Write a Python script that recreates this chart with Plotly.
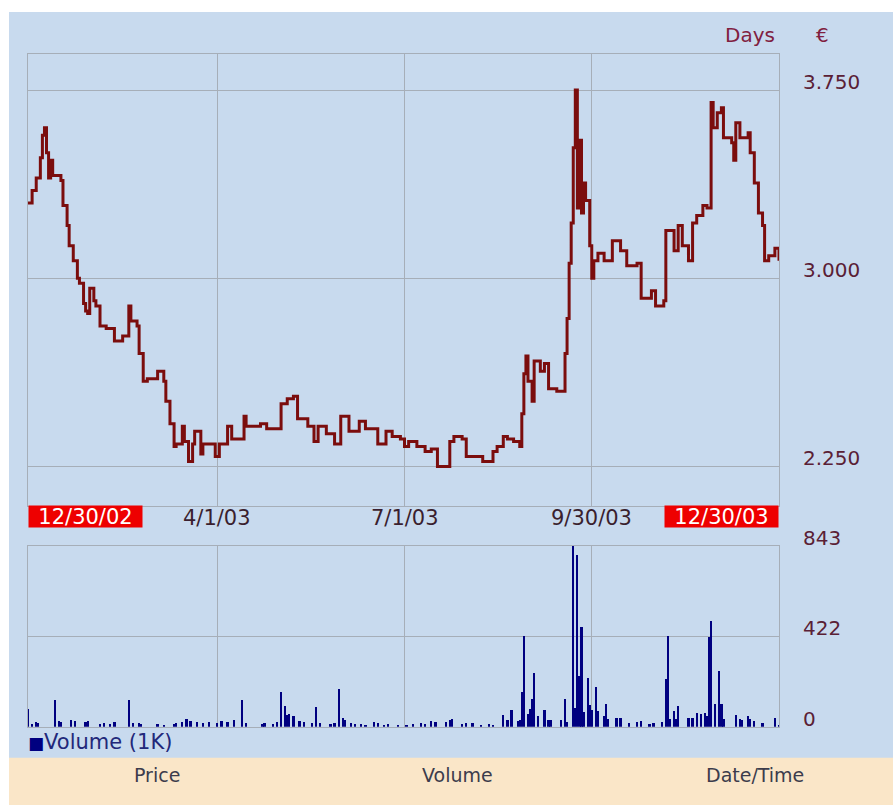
import pandas as pd
import plotly.graph_objects as go

# ---------------- data ----------------
start_date = "2002-12-30"
end_date = "2003-12-30"

# price: day offset from start_date, close price (EUR)
price_day = [0, 2, 4, 6, 7, 8, 9, 10, 11, 12, 14, 16, 17, 19, 20, 22, 24, 25, 27, 28,
             29, 30, 32, 33, 35, 38, 41, 42, 46, 49, 50, 53, 54, 56, 58, 63, 66, 67, 69, 71,
             72, 75, 76, 78, 80, 81, 84, 85, 91, 93, 97, 99, 102, 105, 106, 113, 116, 121, 123, 126,
             129, 131, 132, 136, 139, 141, 145, 149, 152, 156, 161, 164, 167, 170, 174, 177, 181, 183, 185, 189,
             193, 196, 199, 203, 205, 207, 211, 213, 216, 221, 224, 226, 228, 231, 233, 236, 239, 240, 241, 242,
             243, 245, 246, 249, 251, 253, 257, 260, 261, 262, 263, 264, 265, 266, 267, 268, 269, 270, 271, 273,
             274, 275, 277, 280, 284, 288, 291, 296, 298, 303, 305, 309, 310, 314, 316, 318, 321, 323, 325, 328,
             330, 332, 333, 335, 337, 338, 342, 343, 344, 346, 350, 351, 353, 355, 357, 358, 360, 363, 365]
price_val = [3.30, 3.35, 3.40, 3.48, 3.57, 3.60, 3.50, 3.40, 3.47, 3.41, 3.41, 3.39, 3.29, 3.21, 3.13, 3.07, 3.00, 2.98, 2.90, 2.87,
             2.86, 2.96, 2.91, 2.89, 2.81, 2.80, 2.80, 2.75, 2.77, 2.89, 2.83, 2.81, 2.70, 2.59, 2.60, 2.63, 2.59, 2.51, 2.42, 2.33,
             2.34, 2.41, 2.35, 2.27, 2.34, 2.39, 2.30, 2.34, 2.29, 2.34, 2.41, 2.36, 2.36, 2.45, 2.41, 2.42, 2.40, 2.40, 2.50, 2.52,
             2.53, 2.44, 2.44, 2.41, 2.35, 2.41, 2.38, 2.34, 2.45, 2.39, 2.43, 2.40, 2.40, 2.34, 2.39, 2.37, 2.36, 2.33, 2.35, 2.33,
             2.31, 2.32, 2.25, 2.25, 2.35, 2.37, 2.36, 2.29, 2.29, 2.27, 2.27, 2.31, 2.33, 2.37, 2.36, 2.35, 2.33, 2.46, 2.62, 2.69,
             2.59, 2.51, 2.67, 2.63, 2.66, 2.56, 2.55, 2.55, 2.70, 2.84, 3.06, 3.22, 3.52, 3.75, 3.28, 3.55, 3.26, 3.38, 3.31, 3.13,
             3.00, 3.07, 3.10, 3.07, 3.15, 3.11, 3.05, 3.06, 2.92, 2.95, 2.89, 2.91, 3.19, 3.11, 3.21, 3.13, 3.07, 3.22, 3.25, 3.29,
             3.28, 3.70, 3.60, 3.66, 3.68, 3.56, 3.54, 3.47, 3.62, 3.56, 3.58, 3.50, 3.38, 3.26, 3.21, 3.07, 3.09, 3.12, 3.07]

# volume (thousands): day offset from start_date, volume
vol_day = [0, 2, 4, 5, 13, 15, 16, 21, 23, 28, 29, 35, 37, 40, 42, 49, 51, 54, 55, 63,
           66, 71, 72, 75, 77, 79, 82, 85, 88, 92, 94, 97, 100, 104, 106, 114, 115, 119, 121, 123,
           125, 126, 127, 129, 132, 134, 138, 140, 142, 147, 149, 151, 153, 154, 157, 159, 162, 164, 168, 170,
           173, 175, 180, 184, 187, 191, 193, 196, 198, 203, 205, 206, 211, 213, 216, 220, 224, 226, 231, 233,
           235, 238, 239, 240, 241, 243, 244, 245, 246, 248, 251, 253, 254, 259, 261, 262, 265, 266, 267, 268,
           269, 270, 272, 273, 274, 276, 277, 280, 281, 282, 286, 288, 292, 296, 298, 302, 304, 308, 310, 311,
           312, 314, 315, 316, 321, 323, 325, 327, 329, 330, 331, 332, 334, 336, 337, 338, 344, 346, 347, 350,
           351, 353, 357, 363, 365]
vol_val = [85, 15, 25, 20, 125, 30, 25, 35, 30, 25, 30, 15, 20, 15, 25, 125, 20, 20, 15, 15,
           12, 15, 20, 25, 40, 30, 25, 20, 25, 20, 30, 25, 35, 125, 20, 15, 20, 15, 25, 165,
           100, 55, 60, 50, 30, 25, 20, 95, 20, 15, 20, 180, 45, 35, 20, 15, 15, 12, 25, 20,
           12, 15, 10, 12, 15, 20, 15, 30, 25, 25, 35, 40, 15, 20, 20, 12, 15, 10, 55, 35,
           80, 30, 35, 165, 425, 60, 85, 130, 250, 50, 80, 35, 35, 35, 130, 25, 843, 90, 800, 240,
           465, 70, 230, 105, 80, 185, 75, 50, 110, 40, 45, 45, 20, 25, 30, 15, 20, 25, 225, 425,
           40, 75, 40, 100, 45, 45, 65, 60, 65, 50, 420, 495, 110, 260, 110, 40, 55, 40, 35, 50,
           40, 30, 20, 45, 10]

date_ticks = ["2002-12-30", "2003-04-01", "2003-07-01", "2003-09-30", "2003-12-30"]
date_labels = ["12/30/02", "4/1/03", "7/1/03", "9/30/03", "12/30/03"]
price_ticks = [2.25, 3.0, 3.75]
price_labels = ["2.250", "3.000", "3.750"]
vol_ticks = [0, 422, 843]
vol_labels = ["0", "422", "843"]

# ---------------- figure ----------------
SY, Y0 = 0.97, 20.0          # vertical calibration of the photographed page
W, H = 893, 830
FONT = "DejaVu Sans"
BLUE = "#C8DAEE"
BEIGE = "#FAE6C8"
GRID = "#A6AEB8"
TICKCOL = "#5A2035"

start = pd.Timestamp(start_date)
price_x = start + pd.to_timedelta(price_day, unit="D")
vol_x = start + pd.to_timedelta(vol_day, unit="D")


def px(x):
    return x / W


def py(y):
    return max(0.0, min(1.0, 1 - ((y - Y0) / SY) / H))


fig = go.Figure()
fig.add_trace(go.Scatter(x=price_x, y=price_val, mode="lines", line=dict(color="#7B0D0D", width=3, shape="hv"),
                         xaxis="x", yaxis="y", showlegend=False))
fig.add_trace(go.Bar(x=vol_x, y=vol_val, marker=dict(color="#000080", line=dict(width=0)),
                     width=86400000 * 1.1, xaxis="x2", yaxis="y2", showlegend=False))

xdom = [px(28), px(779)]
common_x = dict(type="date", range=[start_date, end_date], domain=xdom, tickvals=date_ticks,
                showticklabels=False, showgrid=True, gridcolor=GRID, gridwidth=1,
                showline=True, linecolor=GRID, linewidth=1, mirror=True, zeroline=False, ticks="")

fig.update_layout(
    width=W, height=H,
    margin=dict(l=0, r=0, t=0, b=0),
    paper_bgcolor="rgba(0,0,0,0)",
    plot_bgcolor="rgba(0,0,0,0)",
    font=dict(family=FONT, size=20, color=TICKCOL),
    bargap=0,
    xaxis=common_x,
    xaxis2=dict(common_x, anchor="y2"),
    yaxis=dict(domain=[py(505), py(54)], range=[2.0944, 3.8936], side="right",
               tickvals=price_ticks, ticktext=price_labels, showgrid=True, gridcolor=GRID,
               showline=True, linecolor=GRID, mirror=True, zeroline=False, ticks="",
               ticklabelstandoff=19, ticklabelshift=-8,
               tickfont=dict(family=FONT, size=20, color=TICKCOL), anchor="x"),
    yaxis2=dict(domain=[py(726), py(545)], range=[0, 843], side="right",
                tickvals=vol_ticks, ticktext=vol_labels, showgrid=True, gridcolor=GRID,
                showline=True, linecolor=GRID, mirror=True, zeroline=False, ticks="",
                ticklabelstandoff=19, ticklabelshift=-8,
                tickfont=dict(family=FONT, size=20, color=TICKCOL), anchor="x2"),
    shapes=[
        dict(type="rect", xref="paper", yref="paper", x0=0, x1=px(9), y0=0, y1=1,
             fillcolor="white", line=dict(width=0), layer="below"),
        dict(type="rect", xref="paper", yref="paper", x0=px(9), x1=1, y0=py(757), y1=1,
             fillcolor=BLUE, line=dict(width=0), layer="below"),
        dict(type="rect", xref="paper", yref="paper", x0=px(9), x1=1, y0=0, y1=py(757),
             fillcolor=BEIGE, line=dict(width=0), layer="below"),
    ],
)

ann = []
# date labels under the price panel
for d, lab in zip(date_ticks, date_labels):
    if lab in (date_labels[0], date_labels[-1]):
        ann.append(dict(x=d, xref="x", y=py(516), yref="paper", text=lab, showarrow=False,
                        xanchor="left" if lab == date_labels[0] else "right", yanchor="middle",
                        bgcolor="#EE0000", borderpad=0, width=113, height=21, align="center",
                        font=dict(family=FONT, size=21, color="white")))
    else:
        ann.append(dict(x=d, xref="x", y=py(517), yref="paper", text=lab, showarrow=False,
                        xanchor="center", yanchor="middle",
                        font=dict(family=FONT, size=21, color="#3A1F2E")))
# header
ann.append(dict(x=px(750), y=py(35), xref="paper", yref="paper", text="Days", showarrow=False,
                xanchor="center", yanchor="middle", font=dict(family=FONT, size=20, color="#802040")))
ann.append(dict(x=px(822), y=py(35), xref="paper", yref="paper", text="€", showarrow=False,
                xanchor="center", yanchor="middle", font=dict(family=FONT, size=20, color="#802040")))
# legend
ann.append(dict(x=px(26), y=py(741), xref="paper", yref="paper",
                text='<span style="color:#000080;font-size:17px">■</span>Volume (1K)', showarrow=False,
                xanchor="left", yanchor="middle", font=dict(family=FONT, size=21, color="#22287A")))
# bottom bar
for cx, lab in [(157, "Price"), (457, "Volume"), (755, "Date/Time")]:
    ann.append(dict(x=px(cx), y=py(774), xref="paper", yref="paper", text=lab, showarrow=False,
                    xanchor="center", yanchor="middle", font=dict(family=FONT, size=19, color="#3C3C4C")))
fig.update_layout(annotations=ann)

page_css = ("document.body.style.margin='0';document.body.style.overflow='hidden';"
            "document.body.style.background='linear-gradient(to right, #ffffff 9px, rgba(0,0,0,0) 9px), "
            "linear-gradient(to bottom, #ffffff 12px, " + BLUE + " 12px)';"
            "document.documentElement.style.background='#ffffff';")
fig.write_html("out.html", config={"displayModeBar": False}, post_script=page_css)
